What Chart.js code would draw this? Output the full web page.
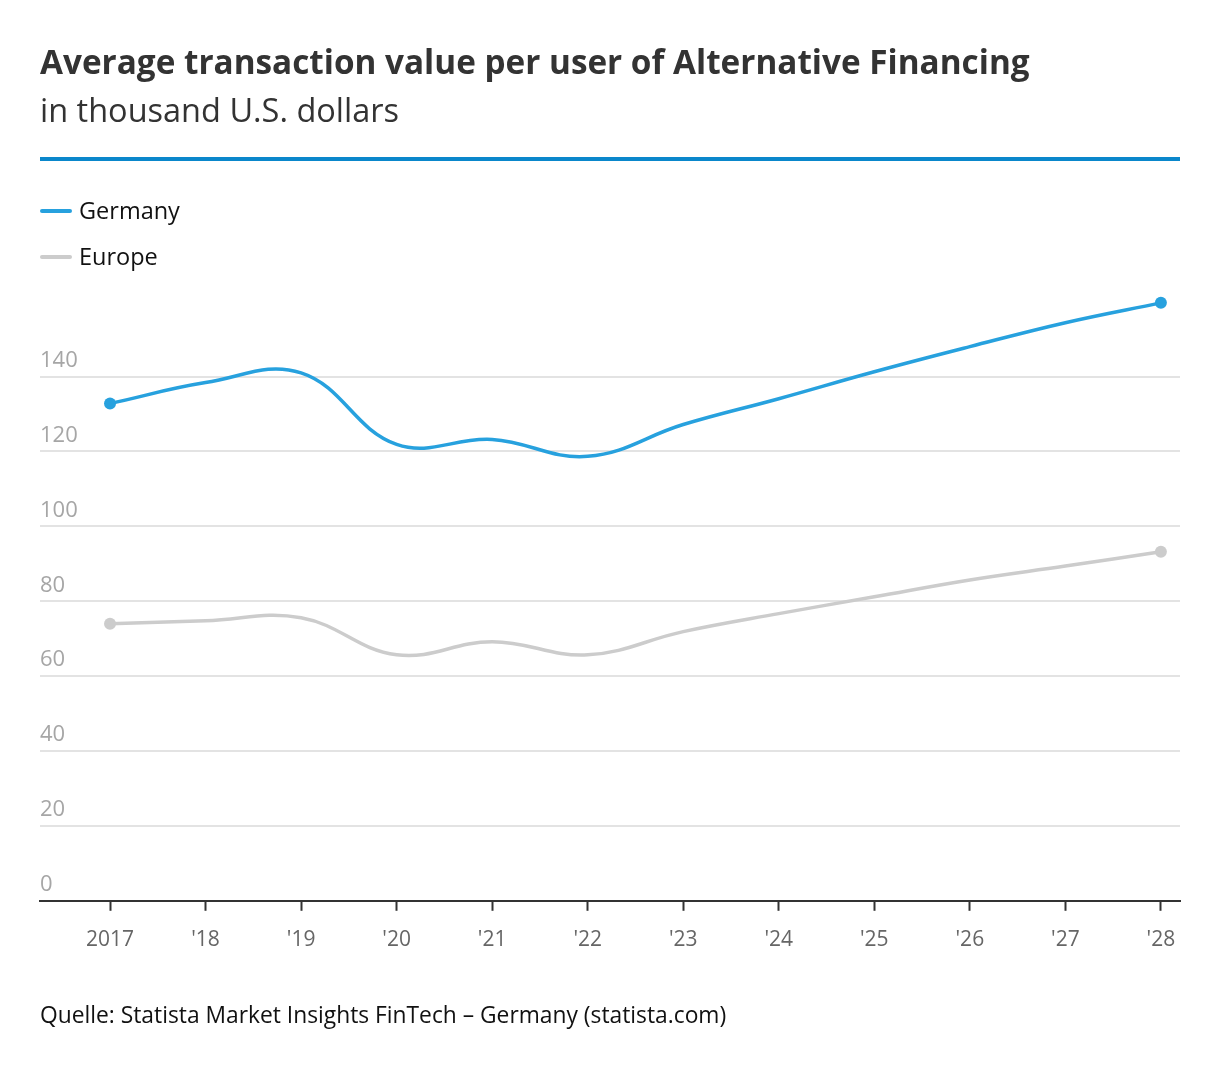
<!DOCTYPE html>
<html>
<head>
<meta charset="utf-8">
<script src="https://cdn.jsdelivr.net/npm/chart.js@4.4.0/dist/chart.umd.min.js"></script>
<style>
  body { margin: 0; background: #fff; font-family: "Open Sans", "Noto Sans", sans-serif; }
  #page { position: relative; width: 1220px; height: 1072px; overflow: hidden; }
  #chart { position: absolute; left: 0; top: 0; }
  .title { position: absolute; left: 40px; top: 38px; font-size: 33.3px; font-weight: 700; color: #333; white-space: nowrap; }
  .subtitle { position: absolute; left: 40px; top: 87px; font-size: 32.5px; color: #333; white-space: nowrap; }
  .rule { position: absolute; left: 40px; top: 157px; width: 1140px; height: 4px; background: #0a87cb; }
  .legend { position: absolute; left: 40px; font-size: 23.5px; color: #111; white-space: nowrap; }
  .legend span { display: inline-block; width: 32px; height: 4px; border-radius: 2px; vertical-align: middle; margin-right: 7px; position: relative; top: -2px; }
  .source { position: absolute; left: 40px; top: 999px; font-size: 22.8px; color: #111; white-space: nowrap; }
</style>
</head>
<body>
<div id="page">
  <canvas id="chart" width="1220" height="1072"></canvas>
  <div class="title">Average transaction value per user of Alternative Financing</div>
  <div class="subtitle">in thousand U.S. dollars</div>
  <div class="rule"></div>
  <div class="legend" style="top:194px"><span style="background:#27a1de"></span>Germany</div>
  <div class="legend" style="top:240px"><span style="background:#cccccc"></span>Europe</div>
  <div class="source">Quelle: Statista Market Insights FinTech – Germany (statista.com)</div>
</div>
<script>
const years = [2017, 2018, 2019, 2020, 2021, 2022, 2023, 2024, 2025, 2026, 2027, 2028];
const yearLabels = ["2017", "'18", "'19", "'20", "'21", "'22", "'23", "'24", "'25", "'26", "'27", "'28"];
const germany = [132.8, 138.4, 141.0, 121.9, 123.2, 118.7, 127.2, 134.1, 141.3, 148.0, 154.4, 159.7];
const europe = [74.0, 74.8, 75.6, 65.7, 69.2, 65.7, 71.9, 76.7, 81.2, 85.7, 89.4, 93.2];
const yTicks = [0, 20, 40, 60, 80, 100, 120, 140];

function toPoints(values) {
  return values.map((v, i) => ({ x: years[i], y: v }));
}

function endDots(ctx) {
  const last = ctx.dataset.data.length - 1;
  return ctx.dataIndex === 0 || ctx.dataIndex === last ? 6 : 0;
}

const fontFamily = '"Open Sans", "Noto Sans", sans-serif';

new Chart(document.getElementById("chart"), {
  type: "line",
  data: {
    datasets: [
      {
        label: "Germany",
        data: toPoints(germany),
        borderColor: "#27a1de",
        backgroundColor: "#27a1de",
        borderWidth: 3.5,
        tension: 0.4,
        pointRadius: endDots,
        pointHoverRadius: endDots,
        pointBorderWidth: 0
      },
      {
        label: "Europe",
        data: toPoints(europe),
        borderColor: "#cccccc",
        backgroundColor: "#cccccc",
        borderWidth: 3.5,
        tension: 0.4,
        pointRadius: endDots,
        pointHoverRadius: endDots,
        pointBorderWidth: 0
      }
    ]
  },
  options: {
    responsive: false,
    animation: false,
    layout: { padding: { left: 40, right: 40, top: 283, bottom: 102 } },
    plugins: { legend: { display: false }, tooltip: { enabled: false } },
    scales: {
      x: {
        type: "linear",
        min: 2016.267,
        max: 2028.2,
        afterBuildTicks: scale => { scale.ticks = years.map(v => ({ value: v })); },
        ticks: {
          callback: value => yearLabels[years.indexOf(value)],
          color: "#666",
          font: { family: fontFamily, size: 21 },
          padding: 17,
          maxRotation: 0,
          autoSkip: false
        },
        grid: { drawOnChartArea: false, drawTicks: true, tickLength: 10, tickColor: "#333", tickWidth: 2 },
        border: { display: true, color: "#333", width: 2 }
      },
      y: {
        min: 0,
        max: 165,
        afterBuildTicks: scale => { scale.ticks = yTicks.map(v => ({ value: v })); },
        ticks: {
          mirror: true,
          padding: 0,
          labelOffset: -16,
          color: "#a6a6a6",
          font: { family: fontFamily, size: 22 }
        },
        grid: { color: "#e3e3e3", lineWidth: 2, drawTicks: false },
        border: { display: false }
      }
    }
  }
});
</script>
</body>
</html>
